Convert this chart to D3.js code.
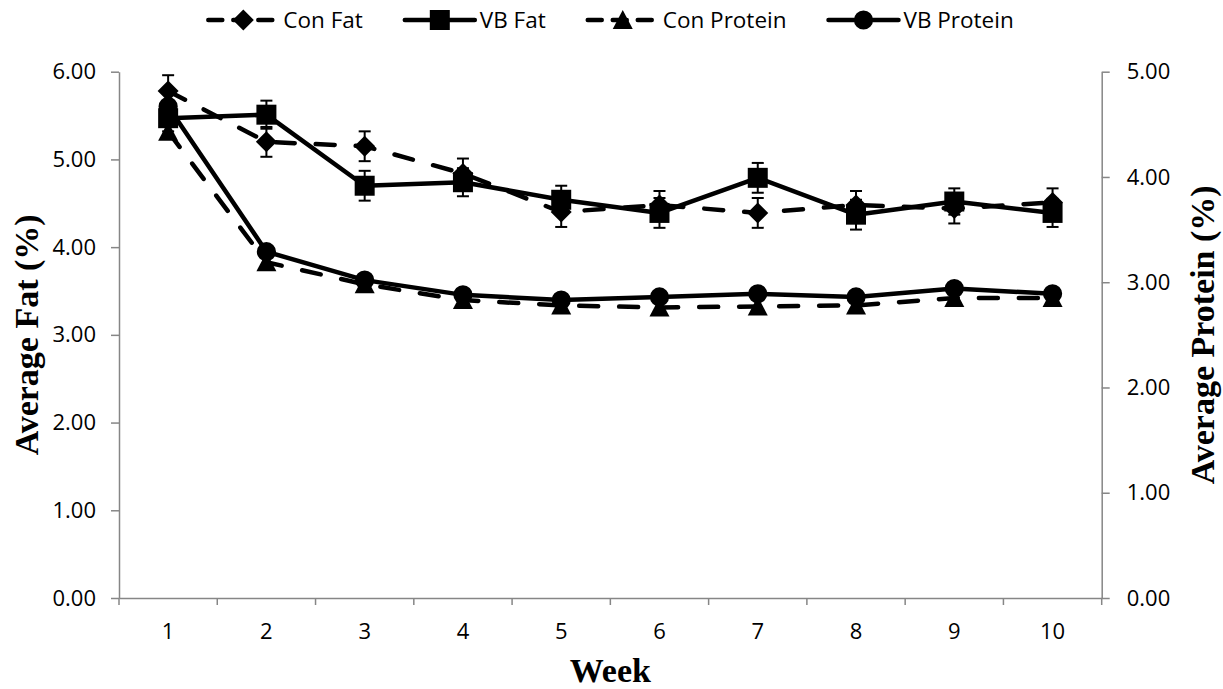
<!DOCTYPE html>
<html>
<head>
<meta charset="utf-8">
<script src="https://cdn.jsdelivr.net/npm/d3@7"></script>
<style>
  body { margin: 0; background: #fff; }
  svg { display: block; }
  .tick-label { font-family: "Open Sans", sans-serif; font-size: 22px; fill: #000; }
  .legend-text { font-family: "Open Sans", sans-serif; font-size: 22.5px; fill: #000; }
  .axis-title { font-family: "Liberation Serif", "Times New Roman", serif; font-weight: bold; font-size: 34px; fill: #000; }
</style>
</head>
<body>
<svg id="chart" width="1223" height="689"></svg>
<script>
const weeks = ["1", "2", "3", "4", "5", "6", "7", "8", "9", "10"];
const conFat = [5.78, 5.20, 5.15, 4.84, 4.40, 4.48, 4.39, 4.48, 4.44, 4.51];
const conFatErr = [0.18, 0.17, 0.17, 0.17, 0.17, 0.16, 0.17, 0.16, 0.17, 0.16];
const vbFat = [5.47, 5.51, 4.70, 4.74, 4.54, 4.39, 4.79, 4.37, 4.52, 4.39];
const vbFatErr = [0.15, 0.16, 0.17, 0.16, 0.16, 0.17, 0.17, 0.17, 0.15, 0.16];
const conProtein = [4.43, 3.19, 2.98, 2.83, 2.78, 2.76, 2.77, 2.78, 2.85, 2.85];
const vbProtein = [4.67, 3.29, 3.02, 2.88, 2.83, 2.86, 2.89, 2.86, 2.94, 2.89];
const fatTicks = [0, 1, 2, 3, 4, 5, 6];
const proteinTicks = [0, 1, 2, 3, 4, 5];

const area = {left: 119, right: 1101.7, top: 71.7, bottom: 598};
const axisColor = "#868686";

let svg = d3.select("#chart");

let xScale = d3.scaleBand().domain(weeks).range([area.left, area.right]);
let yFat = d3.scaleLinear().domain([0, 6]).range([area.bottom, area.top]);
let yProtein = d3.scaleLinear().domain([0, 5]).range([area.bottom, area.top]);

function markerPath(type) {
  if (type === "diamond") return "M0,-10.5L10.5,0L0,10.5L-10.5,0Z";
  if (type === "square") return "M-10,-10H10V10H-10Z";
  if (type === "triangle") return "M0,-10L10,9L-10,9Z";
  return d3.symbol().type(d3.symbolCircle).size(290)();
}

const series = [
  {name: "Con Fat", values: conFat, err: conFatErr, y: yFat, dashed: true, marker: "diamond"},
  {name: "VB Fat", values: vbFat, err: vbFatErr, y: yFat, dashed: false, marker: "square"},
  {name: "Con Protein", values: conProtein, err: null, y: yProtein, dashed: true, marker: "triangle"},
  {name: "VB Protein", values: vbProtein, err: null, y: yProtein, dashed: false, marker: "circle"},
];

// axes
let yAxisLeft = d3.axisLeft(yFat).tickValues(fatTicks).tickFormat(d3.format(".2f"))
  .tickSize(8).tickSizeOuter(0).tickPadding(15);
let yAxisRight = d3.axisRight(yProtein).tickValues(proteinTicks).tickFormat(d3.format(".2f"))
  .tickSize(8).tickSizeOuter(0).tickPadding(17);
let xAxis = d3.axisBottom(xScale).tickSize(0).tickPadding(25);

function styleAxis(g) {
  g.select(".domain").attr("stroke", axisColor).attr("stroke-width", 1.5);
  g.selectAll(".tick line").attr("stroke", axisColor).attr("stroke-width", 1.5);
  g.selectAll(".tick text").attr("class", "tick-label").attr("font-size", null).attr("font-family", null);
}

svg.append("g")
  .attr("class", "axis-x")
  .attr("transform", "translate(0," + area.bottom + ")")
  .call(xAxis)
  .call(styleAxis);

svg.append("g")
  .attr("class", "axis-x-ticks")
  .selectAll("line")
  .data(d3.range(weeks.length + 1))
  .enter()
  .append("line")
  .attr("x1", function(i) { return xScale.range()[0] + i * xScale.step(); })
  .attr("x2", function(i) { return xScale.range()[0] + i * xScale.step(); })
  .attr("y1", area.bottom)
  .attr("y2", area.bottom + 7)
  .attr("stroke", axisColor)
  .attr("stroke-width", 1.5);

svg.append("g")
  .attr("class", "axis-y")
  .attr("transform", "translate(" + area.left + ",0)")
  .call(yAxisLeft)
  .call(styleAxis);

svg.append("g")
  .attr("class", "axis-y2")
  .attr("transform", "translate(" + area.right + ",0)")
  .call(yAxisRight)
  .call(styleAxis);

// axis titles
svg.append("text")
  .attr("class", "axis-title")
  .attr("text-anchor", "middle")
  .attr("transform", "translate(38," + yFat(3) + ") rotate(-90)")
  .text("Average Fat (%)");

svg.append("text")
  .attr("class", "axis-title")
  .attr("text-anchor", "middle")
  .attr("transform", "translate(1214," + yProtein(2.5) + ") rotate(-90)")
  .text("Average Protein (%)");

svg.append("text")
  .attr("class", "axis-title")
  .attr("text-anchor", "middle")
  .attr("x", (area.left + area.right) / 2)
  .attr("y", 682)
  .text("Week");

// series
let line = function(s) {
  return d3.line()
    .x(function(d, i) { return xScale(weeks[i]) + xScale.bandwidth() / 2; })
    .y(function(d) { return s.y(d); })(s.values);
};

series.forEach(function(s) {
  let g = svg.append("g").attr("class", "series");

  if (s.err) {
    let eb = g.selectAll(".err")
      .data(s.values)
      .enter()
      .append("g")
      .attr("class", "err")
      .attr("transform", function(d, i) { return "translate(" + (xScale(weeks[i]) + xScale.bandwidth() / 2) + ",0)"; });
    eb.append("line")
      .attr("y1", function(d, i) { return s.y(d - s.err[i]); })
      .attr("y2", function(d, i) { return s.y(d + s.err[i]); })
      .attr("stroke", "#000").attr("stroke-width", 2);
    eb.append("line")
      .attr("x1", -6).attr("x2", 6)
      .attr("y1", function(d, i) { return s.y(d + s.err[i]); })
      .attr("y2", function(d, i) { return s.y(d + s.err[i]); })
      .attr("stroke", "#000").attr("stroke-width", 2);
    eb.append("line")
      .attr("x1", -6).attr("x2", 6)
      .attr("y1", function(d, i) { return s.y(d - s.err[i]); })
      .attr("y2", function(d, i) { return s.y(d - s.err[i]); })
      .attr("stroke", "#000").attr("stroke-width", 2);
  }

  g.append("path")
    .attr("d", line(s))
    .attr("fill", "none")
    .attr("stroke", "#000")
    .attr("stroke-width", 4.5)
    .attr("stroke-linecap", "round")
    .attr("stroke-linejoin", "round")
    .attr("stroke-dasharray", s.dashed ? "19,21" : null);

  g.selectAll(".marker")
    .data(s.values)
    .enter()
    .append("path")
    .attr("class", "marker")
    .attr("d", markerPath(s.marker))
    .attr("transform", function(d, i) {
      return "translate(" + (xScale(weeks[i]) + xScale.bandwidth() / 2) + "," + s.y(d) + ")";
    })
    .attr("fill", "#000");
});

// legend, centred over the plot
let legend = svg.append("g").attr("class", "legend");
let symbolLen = 70;
let itemGap = 42;
let cursor = 0;
series.forEach(function(s) {
  let item = legend.append("g").attr("transform", "translate(" + cursor + ",0)");
  item.append("line")
    .attr("x1", 0).attr("x2", symbolLen)
    .attr("stroke", "#000").attr("stroke-width", 4.5)
    .attr("stroke-linecap", "round")
    .attr("stroke-dasharray", s.dashed ? "14,11" : null);
  item.append("path")
    .attr("d", markerPath(s.marker))
    .attr("transform", "translate(" + symbolLen / 2 + ",0)")
    .attr("fill", "#000");
  let t = item.append("text")
    .attr("class", "legend-text")
    .attr("x", symbolLen + 5)
    .attr("dy", "0.35em")
    .text(s.name);
  cursor += symbolLen + 5 + t.node().getComputedTextLength() + itemGap;
});
let legendWidth = cursor - itemGap;
legend.attr("transform", "translate(" + (611 - legendWidth / 2) + ",20)");
</script>
</body>
</html>
